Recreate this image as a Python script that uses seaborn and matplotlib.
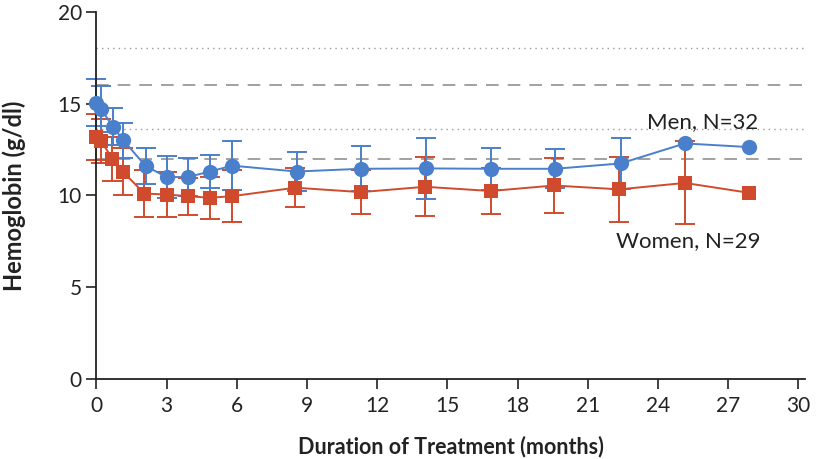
import pandas as pd
import matplotlib.pyplot as plt
import seaborn as sb

# values
months_men = [0.0, 0.2, 0.7, 1.15, 2.1, 3.0, 3.9, 4.85, 5.8, 8.55, 11.3, 14.1, 16.85, 19.6, 22.4, 25.15, 27.9]
hb_men = [15.05, 14.7, 13.75, 13.0, 11.6, 11.0, 11.0, 11.3, 11.62, 11.3, 11.45, 11.47, 11.45, 11.45, 11.74, 12.83, 12.63]
sd_men = [1.27, 1.24, 1.0, 0.95, 1.0, 1.14, 1.05, 0.9, 1.32, 1.05, 1.23, 1.66, 1.14, 1.05, 1.4, 0, 0]

months_women = [0.0, 0.2, 0.68, 1.12, 2.05, 3.0, 3.9, 4.85, 5.8, 8.5, 11.3, 14.05, 16.85, 19.55, 22.35, 25.15, 27.9]
hb_women = [13.2, 12.95, 12.0, 11.3, 10.1, 10.05, 9.96, 9.87, 9.96, 10.42, 10.18, 10.47, 10.24, 10.54, 10.33, 10.68, 10.14]
sd_women = [1.25, 1.2, 1.2, 1.3, 1.27, 1.25, 1.0, 1.14, 1.4, 1.06, 1.2, 1.6, 1.27, 1.52, 1.76, 2.26, 0]

# normal ranges: women 12-16 (dashed), men 13.6-18 (dotted)
ref_dashed = [12, 16]
ref_dotted = [13.6, 18]

blue = '#4a80cb'
red = '#d04b2e'
grey = '#9a9a9a'
ink = '#222222'

men = pd.DataFrame({'month': months_men, 'hb': hb_men, 'sd': sd_men})
women = pd.DataFrame({'month': months_women, 'hb': hb_women, 'sd': sd_women})

sb.set_style('ticks')
plt.rcParams['font.family'] = ['Lato', 'DejaVu Sans']

fig = plt.figure(figsize=(8.21, 4.59), dpi=100)
ax = fig.add_axes([0.1175, 0.174, 0.8635, 0.8005])

for y in ref_dashed:
    ax.axhline(y, color=grey, lw=1.3, ls=(0, (7, 5)), zorder=1)
for y in ref_dotted:
    ax.axhline(y, color=grey, lw=1.0, ls=(0, (1, 3)), zorder=1)

# error bars
for df, c in [(women, red), (men, blue)]:
    d = df[df.sd > 0]
    ax.errorbar(d.month, d.hb, yerr=d.sd, fmt='none', ecolor=c, elinewidth=1.4,
                capsize=7.5, capthick=1.4, zorder=2, clip_on=False)

sb.lineplot(data=women, x='month', y='hb', color=red, marker='s', markersize=10,
            markeredgewidth=0, lw=1.4, ax=ax, zorder=3, clip_on=False)
sb.lineplot(data=men, x='month', y='hb', color=blue, marker='o', markersize=11,
            markeredgewidth=0, lw=1.4, ax=ax, zorder=4, clip_on=False)

ax.text(25.9, 14.0, 'Men, N=32', fontsize=16, ha='center', va='center', color=ink)
ax.text(25.3, 7.5, 'Women, N=29', fontsize=16, ha='center', va='center', color=ink)

ax.set_xlim(0, 30.3)
ax.set_ylim(0, 20)
ax.set_xticks(range(0, 31, 3))
ax.set_yticks(range(0, 21, 5))
ax.tick_params(labelsize=15, length=7, width=1.2, color=ink, labelcolor=ink)
ax.tick_params(axis='x', pad=5)
sb.despine(ax=ax)
for s in ['left', 'bottom']:
    ax.spines[s].set_linewidth(1.3)
    ax.spines[s].set_color(ink)

ax.set_xlabel('Duration of Treatment (months)', fontsize=15.5, fontweight='bold', color=ink)
ax.set_ylabel('Hemoglobin (g/dl)', fontsize=17, fontweight='bold', color=ink)
ax.xaxis.set_label_coords(0.5, -0.155)
ax.yaxis.set_label_coords(-0.1, 0.5)

fig.savefig('out.png', dpi=100)
